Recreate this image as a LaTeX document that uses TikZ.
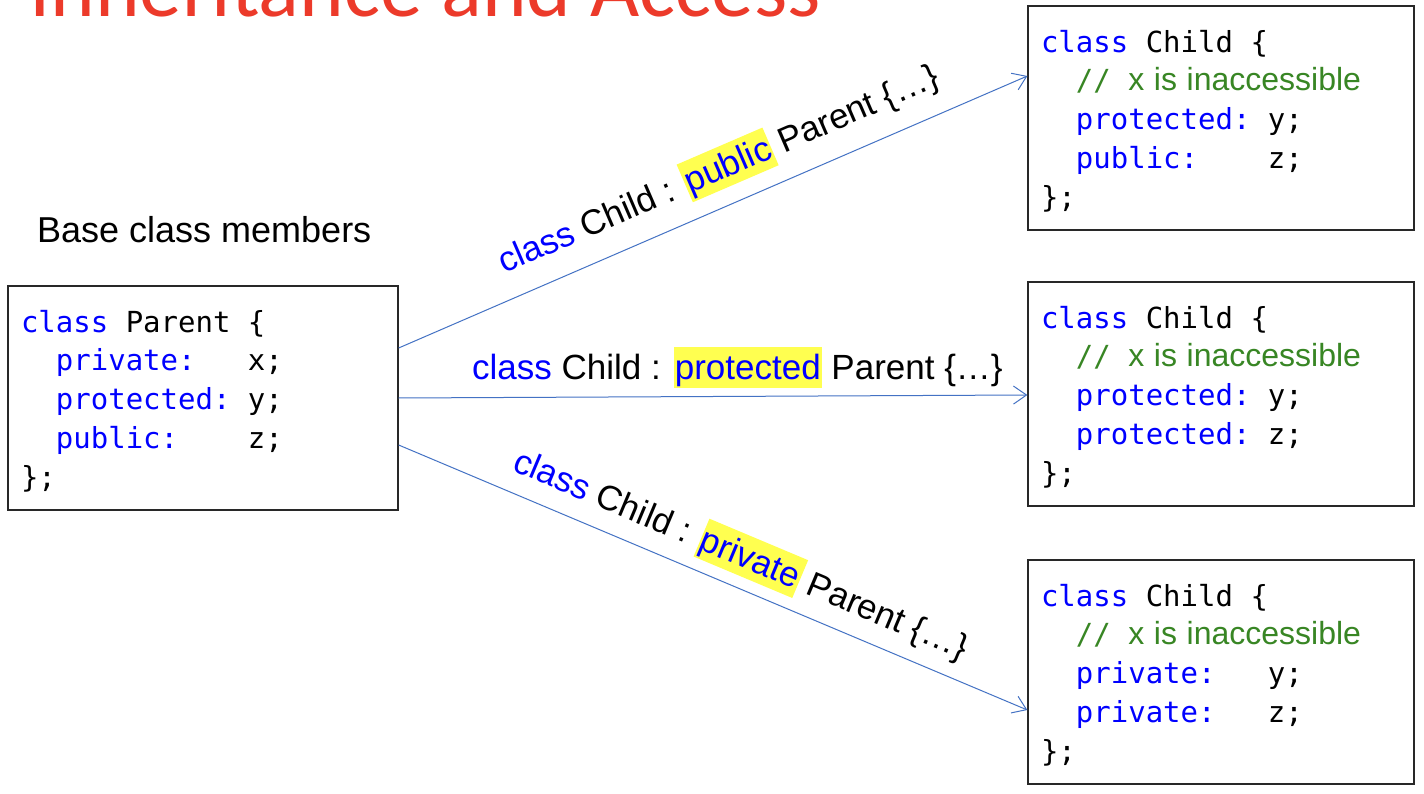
\documentclass[tikz,border=0pt]{standalone}
\usepackage{fontspec}
\usetikzlibrary{arrows.meta,calc}
\setmainfont{Liberation Sans}
\newfontfamily\codef{DejaVu Sans Mono}
\newfontfamily\arialf{Liberation Sans}
\newfontfamily\titlef{Carlito}
\definecolor{kwblue}{RGB}{0,0,255}
\definecolor{cgreen}{RGB}{56,134,36}
\definecolor{titlered}{RGB}{236,58,42}
\definecolor{arrowblue}{RGB}{68,114,196}
\definecolor{boxgray}{RGB}{40,40,40}
\definecolor{hlyellow}{RGB}{255,255,80}
\newcommand\kw[1]{\textcolor{kwblue}{#1}}
\newcommand\hlt[1]{{\setlength\fboxsep{0pt}\colorbox{hlyellow}{\kern1pt\rule[-9pt]{0pt}{41pt}#1\kern1pt}}}
\newcommand\cmt{\textcolor{cgreen}{//\phantom{x}{\arialf\fontsize{32}{38.7}\selectfont x is inaccessible}}}
\newcommand\codesize{\codef\fontsize{29}{38.7}\selectfont}
\newcommand\labsize{\arialf\fontsize{35}{42}\selectfont}
\newcommand\fst{\rule{0pt}{28pt}}
\tikzset{
  codebox/.style={draw=boxgray, line width=1.3pt, fill=white, align=left,
    inner xsep=13pt, inner ysep=0pt, minimum height=224pt, font=\codesize},
  inh/.style={draw=arrowblue, line width=1pt,
    -{Straight Barb[length=13pt,width=18pt,line width=1pt]}},
  lab/.style={inner sep=0pt, font=\labsize, anchor=base west}
}
\begin{document}
\begin{tikzpicture}[x=1pt,y=-1pt]
\clip (0,0) rectangle (1424,794);
\fill[white] (0,0) rectangle (1424,794);

\node[anchor=base west, inner sep=0pt, text=titlered,
  font=\titlef\fontsize{85}{92}\selectfont] (title) at (29,17) {Inheritance and Access};

\node[lab, font=\arialf\fontsize{36}{43}\selectfont] (base) at (37,243) {Base class members};

\node[codebox, text width=364pt] (parent) at (203,398) {%
\fst\kw{class}\phantom{x}Parent\phantom{x}\{\\
\phantom{xx}\kw{private:}\phantom{xxx}x;\\
\phantom{xx}\kw{protected:}\phantom{x}y;\\
\phantom{xx}\kw{public:}\phantom{xxxx}z;\\
\};};

\node[codebox, text width=360pt] (child1) at (1221,118) {%
\fst\kw{class}\phantom{x}Child\phantom{x}\{\\
\phantom{xx}\cmt\\
\phantom{xx}\kw{protected:}\phantom{x}y;\\
\phantom{xx}\kw{public:}\phantom{xxxx}z;\\
\};};

\node[codebox, text width=360pt] (child2) at (1221,394) {%
\fst\kw{class}\phantom{x}Child\phantom{x}\{\\
\phantom{xx}\cmt\\
\phantom{xx}\kw{protected:}\phantom{x}y;\\
\phantom{xx}\kw{protected:}\phantom{x}z;\\
\};};

\node[codebox, text width=360pt] (child3) at (1221,672) {%
\fst\kw{class}\phantom{x}Child\phantom{x}\{\\
\phantom{xx}\cmt\\
\phantom{xx}\kw{private:}\phantom{xxx}y;\\
\phantom{xx}\kw{private:}\phantom{xxx}z;\\
\};};

\draw[inh] ($(parent.east)+(0,-50)$) -- ($(child1.west)+(0,-42)$);
\draw[inh] ($(parent.east)+(0,0)$) -- ($(child2.west)+(0,1)$);
\draw[inh] ($(parent.east)+(0,47)$) -- ($(child3.west)+(0,38)$);

\node[lab, rotate=23.35] (lab1) at (504,274)
  {\kw{class} Child : \hlt{\kw{public}} Parent \{…\}};
\node[lab] (lab2) at (472,379)
  {\kw{class} Child : \hlt{\kw{protected}} Parent \{…\}};
\node[lab, rotate=-22.8] (lab3) at (511,470)
  {\kw{class} Child : \hlt{\kw{private}} Parent \{…\}};
\end{tikzpicture}
\end{document}
